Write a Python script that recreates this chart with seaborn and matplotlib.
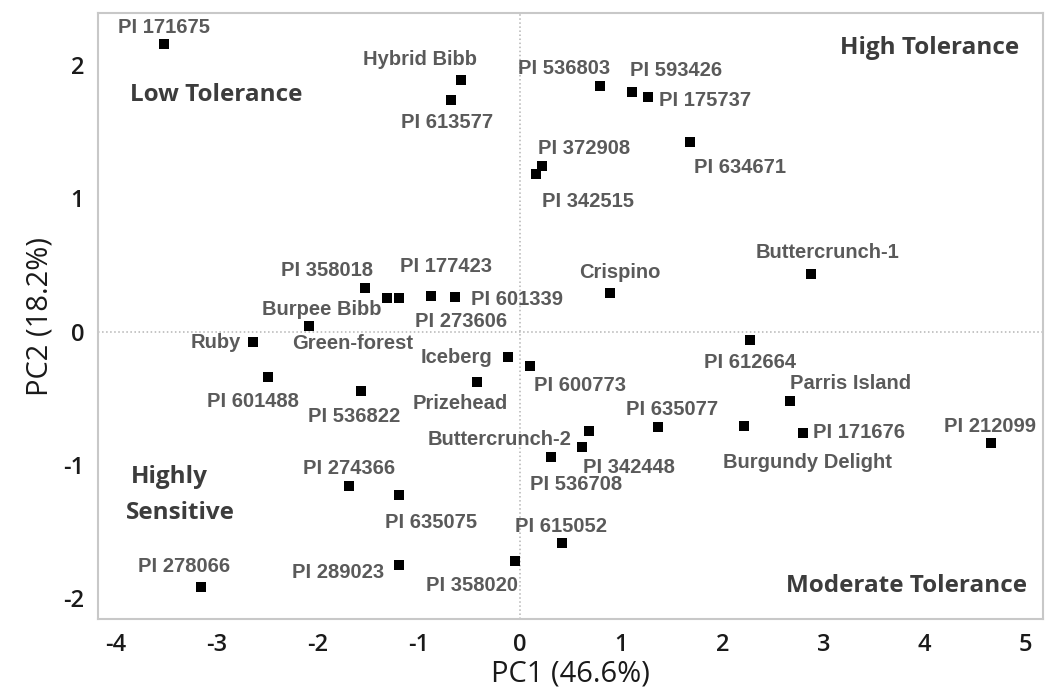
import pandas as pd
import seaborn as sns
import matplotlib.pyplot as plt

# PCA scores
nomes = [
    'PI 171675', 'Hybrid Bibb', 'PI 613577', 'PI 536803', 'PI 593426',
    'PI 175737', 'PI 634671', 'PI 372908', 'PI 342515', 'Buttercrunch-1',
    'Crispino', 'PI 612664', 'PI 358018', 'Green-forest', 'PI 273606',
    'PI 177423', 'PI 601339', 'Burpee Bibb', 'Ruby', 'PI 601488',
    'PI 536822', 'Iceberg', 'PI 600773', 'Prizehead', 'Buttercrunch-2',
    'PI 342448', 'PI 536708', 'PI 635077', 'Burgundy Delight', 'Parris Island',
    'PI 171676', 'PI 212099', 'PI 615052', 'PI 358020', 'PI 274366',
    'PI 635075', 'PI 289023', 'PI 278066',
]
pc1 = [
    -3.52, -0.58, -0.68, 0.79, 1.11,
    1.27, 1.68, 0.22, 0.16, 2.88,
    0.89, 2.27, -1.53, -1.31, -1.20,
    -0.88, -0.64, -2.08, -2.64, -2.49,
    -1.57, -0.12, 0.10, -0.42, 0.68,
    0.61, 0.31, 1.36, 2.21, 2.67,
    2.80, 4.66, 0.42, -0.05, -1.69,
    -1.20, -1.20, -3.15,
]
pc2 = [
    2.16, 1.89, 1.74, 1.84, 1.80,
    1.76, 1.42, 1.24, 1.18, 0.43,
    0.29, -0.06, 0.33, 0.25, 0.25,
    0.27, 0.26, 0.04, -0.08, -0.34,
    -0.45, -0.19, -0.26, -0.38, -0.75,
    -0.87, -0.94, -0.72, -0.71, -0.52,
    -0.76, -0.84, -1.59, -1.72, -1.16,
    -1.23, -1.75, -1.92,
]
xticks = [-4, -3, -2, -1, 0, 1, 2, 3, 4, 5]
yticks = [-2, -1, 0, 1, 2]

# label placement: offset in pixels from the point, horizontal alignment
deslocamentos = {
    'PI 171675': (0, 16, 'center'), 'Hybrid Bibb': (-41, 20, 'center'),
    'PI 613577': (-4, -23, 'center'), 'PI 536803': (-36, 18, 'center'),
    'PI 593426': (44, 21, 'center'), 'PI 175737': (11, -3, 'left'),
    'PI 634671': (50, -25, 'center'), 'PI 372908': (42, 18, 'center'),
    'PI 342515': (52, -27, 'center'), 'Buttercrunch-1': (16, 22, 'center'),
    'Crispino': (10, 20, 'center'), 'PI 612664': (0, -23, 'center'),
    'PI 358018': (-38, 17, 'center'), 'Green-forest': (-35, -45, 'center'),
    'PI 273606': (63, -23, 'center'), 'PI 177423': (15, 29, 'center'),
    'PI 601339': (16, -3, 'left'), 'Burpee Bibb': (12, 17, 'center'),
    'Ruby': (-12, 0, 'right'), 'PI 601488': (-15, -25, 'center'),
    'PI 536822': (-7, -25, 'center'), 'Iceberg': (-15, -1, 'right'),
    'PI 600773': (50, -19, 'center'), 'Prizehead': (-17, -21, 'center'),
    'Buttercrunch-2': (-17, -8, 'right'), 'PI 342448': (47, -20, 'center'),
    'PI 536708': (25, -28, 'center'), 'PI 635077': (15, 18, 'center'),
    'Burgundy Delight': (64, -36, 'center'), 'Parris Island': (60, 17, 'center'),
    'PI 171676': (10, 0, 'left'), 'PI 212099': (-1, 17, 'center'),
    'PI 615052': (-1, 17, 'center'), 'PI 358020': (-43, -25, 'center'),
    'PI 274366': (0, 18, 'center'), 'PI 635075': (33, -27, 'center'),
    'PI 289023': (-14, -8, 'right'), 'PI 278066': (-17, 21, 'center'),
}

df = pd.DataFrame({'nome': nomes, 'PC1': pc1, 'PC2': pc2})

sns.set_theme(style='white')
plt.rcParams['font.family'] = ['Open Sans', 'DejaVu Sans']
plt.rcParams['axes.unicode_minus'] = False

fig, ax = plt.subplots(figsize=(10.54, 6.95), dpi=100)
fig.subplots_adjust(left=0.093, right=0.9896, bottom=0.109, top=0.981)

ax.axvline(0, color='#b4b4b4', linestyle=':', linewidth=1.1, zorder=1)
ax.axhline(0, color='#b4b4b4', linestyle=':', linewidth=1.1, zorder=1)

sns.scatterplot(data=df, x='PC1', y='PC2', marker='s', color='black',
                s=58, linewidth=0, ax=ax, zorder=3)

for nome, x, y in zip(nomes, pc1, pc2):
    dx, dy, ha = deslocamentos[nome]
    ax.annotate(nome, (x, y), xytext=(dx, dy), textcoords='offset pixels',
                ha=ha, va='center', fontsize=14.5, fontweight='bold',
                family='Liberation Sans', color='#5a5a5a', zorder=4)

# quadrant labels
estilo_quad = dict(fontsize=17.5, fontweight='bold', color='#3c3c3c',
                   transform=ax.transAxes, va='center')
ax.text(0.125, 0.865, 'Low Tolerance', ha='center', **estilo_quad)
ax.text(0.880, 0.942, 'High Tolerance', ha='center', **estilo_quad)
ax.text(0.0349, 0.234, 'Highly', ha='left', **estilo_quad)
ax.text(0.0296, 0.175, 'Sensitive', ha='left', **estilo_quad)
ax.text(0.855, 0.0545, 'Moderate Tolerance', ha='center', **estilo_quad)

ax.set_xlim(-4.17, 5.17)
ax.set_ylim(-2.16, 2.39)
ax.set_xticks(xticks)
ax.set_yticks(yticks)
ax.tick_params(axis='both', length=4, width=1, color='#c0c0c0',
               labelsize=17, labelcolor='#1a1a1a', pad=6)
for rotulo in ax.get_xticklabels() + ax.get_yticklabels():
    rotulo.set_fontweight('semibold')

for spine in ax.spines.values():
    spine.set_color('#c8c8c8')
    spine.set_linewidth(1.5)

ax.set_xlabel('PC1 (46.6%)', fontsize=21, color='#1a1a1a', labelpad=2)
ax.set_ylabel('PC2 (18.2%)', fontsize=21, color='#1a1a1a', labelpad=6)

fig.savefig('out.png', dpi=100)
